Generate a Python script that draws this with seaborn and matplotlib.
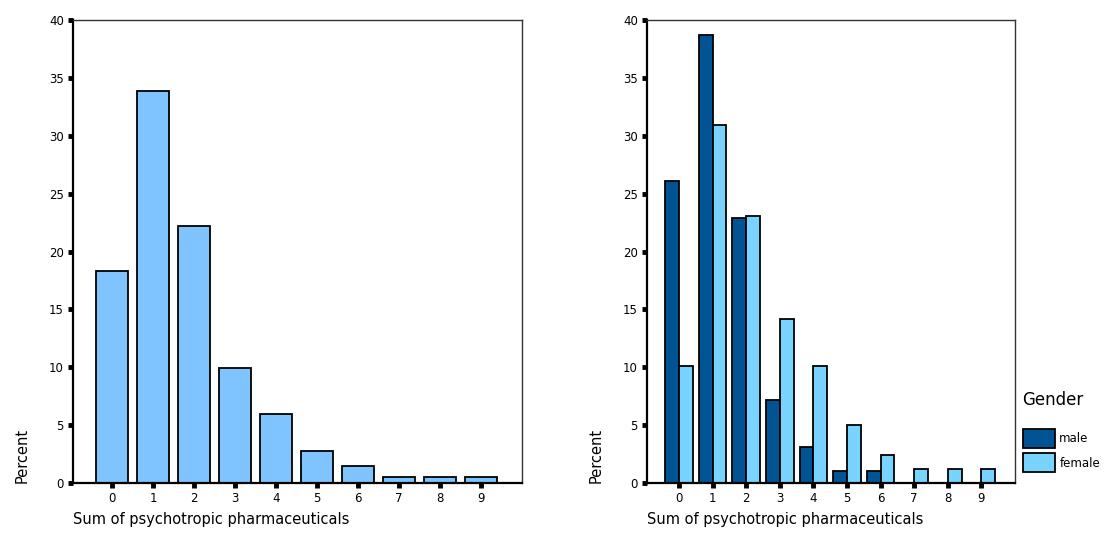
import pandas as pd
import matplotlib.pyplot as plt
import seaborn as sns

# values
counts = [0, 1, 2, 3, 4, 5, 6, 7, 8, 9]
total_pct = [18.3, 33.9, 22.2, 9.9, 6.0, 2.8, 1.5, 0.5, 0.5, 0.5]
male_pct = [26.1, 38.7, 22.9, 7.2, 3.1, 1.0, 1.0, 0.0, 0.0, 0.0]
female_pct = [10.1, 30.9, 23.1, 14.2, 10.1, 5.0, 2.4, 1.2, 1.2, 1.2]
genders = ["male", "female"]

sns.set_style("white")
plt.rcParams['font.family'] = ['DejaVu Sans']
plt.rcParams['text.color'] = 'black'
plt.rcParams['axes.labelcolor'] = 'black'

total_df = pd.DataFrame({"x": counts, "Percent": total_pct})
gender_df = pd.DataFrame({
    "x": counts * 2,
    "Percent": male_pct + female_pct,
    "Gender": [genders[0]] * len(counts) + [genders[1]] * len(counts),
})

fig = plt.figure(figsize=(11.19, 5.56), dpi=100)
ax1 = fig.add_axes([0.0652, 0.1313, 0.4013, 0.8327])
ax2 = fig.add_axes([0.5782, 0.1313, 0.3289, 0.8327])

sns.barplot(data=total_df, x="x", y="Percent", color="#80c4ff",
            saturation=1, width=0.8, edgecolor="black", linewidth=1.3, ax=ax1)
sns.barplot(data=gender_df, x="x", y="Percent", hue="Gender",
            hue_order=genders, palette=["#005494", "#78d4ff"],
            saturation=1, width=0.82, edgecolor="black", linewidth=1.3, ax=ax2)

for ax in (ax1, ax2):
    ax.set_ylim(0, 40)
    ax.set_xlim(-0.95, 10.0)
    ax.set_yticks(range(0, 41, 5))
    ax.tick_params(axis="both", direction="out", length=3.5, width=3.5,
                   color="black", labelsize=8.5, labelcolor="black", pad=3,
                   bottom=True, left=True)
    for side in ("left", "bottom"):
        ax.spines[side].set_linewidth(1.6)
        ax.spines[side].set_color("black")
    for side in ("top", "right"):
        ax.spines[side].set_linewidth(1.0)
        ax.spines[side].set_color("#333333")
    ax.set_xlabel("Sum of psychotropic pharmaceuticals", fontsize=10.5,
                  loc="left", labelpad=5)
    ax.set_ylabel("Percent", fontsize=10.5, loc="bottom", labelpad=14)

# legend entries below a separate, larger title (as in the reference)
ax2.legend(loc="lower left", bbox_to_anchor=(1.0, 0.005),
           frameon=False, fontsize=8.5,
           handlelength=2.7, handleheight=2.1, labelspacing=0.5,
           handletextpad=0.35, borderaxespad=0.3)
fig.text(0.9133, 0.2806, "Gender", fontsize=12, va="center", ha="left")

plt.savefig("out.png", dpi=100)
